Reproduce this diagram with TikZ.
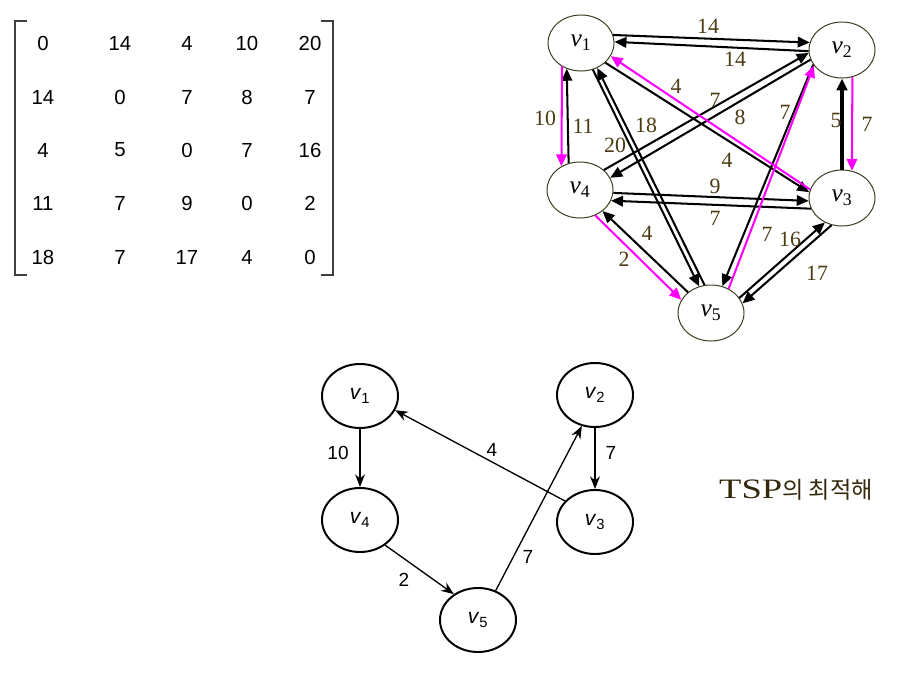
\documentclass[tikz,border=0pt]{standalone}
\usepackage{fontspec}
\setmainfont{Liberation Serif}
\setsansfont{Liberation Sans}
\newfontfamily\krfont{Noto Sans CJK KR}
\usetikzlibrary{arrows.meta,shapes.geometric}
\definecolor{tour}{HTML}{FF00FF}
\definecolor{rim}{HTML}{3B3A1C}
\definecolor{ink}{HTML}{4B3A12}

\begin{document}
\begin{tikzpicture}[x=0.025cm,y=-0.025cm,
  vtx/.style={ellipse,draw=rim,line width=0.7pt,minimum width=1.65cm,minimum height=1.4cm,inner sep=0pt,font=\fontsize{18}{18}\selectfont},
  arr/.style={line width=1.45pt,-{Triangle[length=8.5pt,width=7.5pt]}},
  tourarr/.style={arr,draw=tour,fill=tour},
  wt/.style={text=ink,inner sep=0pt,font=\fontsize{15.5}{16}\selectfont},
  circ/.style={ellipse,draw,line width=1.4pt,minimum width=1.9cm,minimum height=1.6cm,inner sep=0pt,font=\sffamily\fontsize{15}{15}\selectfont},
  tarr/.style={line width=0.95pt,-{Stealth[length=9pt,width=7pt]}},
  lab/.style={inner sep=0pt,font=\sffamily\fontsize{13.5}{14}\selectfont},
  ent/.style={inner sep=0pt,font=\sffamily\fontsize{14.5}{15}\selectfont}]
  \useasboundingbox (0,0) rectangle (908,677);
  % cost matrix
  \draw[line width=1pt,darkgray] (27,21) -- (15,21) -- (15,275) -- (27,275);
  \draw[line width=1pt,darkgray] (321,21) -- (333,21) -- (333,275) -- (321,275);
  \node[ent] (m11) at (43,43) {0};  \node[ent] (m12) at (120,43) {14}; \node[ent] (m13) at (187,43) {4};  \node[ent] (m14) at (247,43) {10}; \node[ent] (m15) at (310,43) {20};
  \node[ent] (m21) at (43,97) {14}; \node[ent] (m22) at (120,97) {0};  \node[ent] (m23) at (187,97) {7};  \node[ent] (m24) at (247,97) {8};  \node[ent] (m25) at (310,97) {7};
  \node[ent] (m31) at (43,150) {4}; \node[ent] (m32) at (120,150) {5}; \node[ent] (m33) at (187,150) {0}; \node[ent] (m34) at (247,150) {7}; \node[ent] (m35) at (310,150) {16};
  \node[ent] (m41) at (43,203) {11}; \node[ent] (m42) at (120,203) {7}; \node[ent] (m43) at (187,203) {9}; \node[ent] (m44) at (247,203) {0}; \node[ent] (m45) at (310,203) {2};
  \node[ent] (m51) at (43,257) {18}; \node[ent] (m52) at (120,257) {7}; \node[ent] (m53) at (187,257) {17}; \node[ent] (m54) at (247,257) {4}; \node[ent] (m55) at (310,257) {0};
  % complete graph
  \node[vtx] (v1) at (581,43) {\textit{v}\textsubscript{1}};
  \node[vtx] (v2) at (842,50) {\textit{v}\textsubscript{2}};
  \node[vtx] (v3) at (842,198) {\textit{v}\textsubscript{3}};
  \node[vtx] (v4) at (580,190) {\textit{v}\textsubscript{4}};
  \node[vtx] (v5) at (711,313) {\textit{v}\textsubscript{5}};
  \draw[arr] (v1.14) -- (v2.167);  \draw[arr] (v2.182) -- (v1.2);
  \draw[arr] (v4.113) -- (v1.241);
  \draw[arr,line width=2.3pt] (v3.90) -- (v2.270);
  \draw[arr] (v4.-5) -- (v3.185);  \draw[arr] (v3.199) -- (v4.-19);
  \draw[arr] (v5.138) -- (v4.-43);
  \draw[arr] (v5.28) -- (v3.235);  \draw[arr] (v3.249) -- (v5.17);
  \draw[arr] (v1.-66) -- (v5.114); \draw[arr] (v5.103) -- (v1.-57);
  \draw[arr] (v1.-39) -- (v3.170);
  \draw[arr] (v4.40) -- (v2.185);  \draw[arr] (v2.197) -- (v4.22);
  \draw[arr] (v2.207) -- (v5.67);
  % tour in magenta
  \draw[tourarr] (v1.231) -- (v4.128);
  \draw[tourarr] (v4.-59) -- (v5.156);
  \draw[tourarr] (v5.54) -- (v2.209);
  \draw[tourarr] (v2.291) -- (v3.70);
  \draw[tourarr] (v3.165) -- (v1.-24);
  \node[wt] (l12) at (708,26) {14};  \node[wt] (l21) at (735,59) {14};
  \node[wt] (l14) at (545,118) {10}; \node[wt] (l41) at (583,126) {11};
  \node[wt] (l31) at (676,86) {4};   \node[wt] (l42) at (715,100) {7};
  \node[wt] (l24) at (740,117) {8};  \node[wt] (l25) at (785,112) {7};
  \node[wt] (l32) at (836,120) {5};  \node[wt] (l23) at (867,124) {7};
  \node[wt] (l51) at (646,125) {18}; \node[wt] (l15) at (615,145) {20};
  \node[wt] (l13) at (727,160) {4};  \node[wt] (l43) at (715,186) {9};
  \node[wt] (l34) at (715,218) {7};  \node[wt] (l54) at (647,233) {4};
  \node[wt] (l45) at (624,259) {2};  \node[wt] (l52) at (767,234) {7};
  \node[wt] (l53) at (790,239) {16}; \node[wt] (l35) at (817,273) {17};
  % optimal tour
  \node[circ] (b1) at (360,396) {\textit{v}\textsubscript{1}};
  \node[circ] (b2) at (595,395) {\textit{v}\textsubscript{2}};
  \node[circ] (b3) at (595,522) {\textit{v}\textsubscript{3}};
  \node[circ] (b4) at (360,520) {\textit{v}\textsubscript{4}};
  \node[circ] (b5) at (478,620) {\textit{v}\textsubscript{5}};
  \draw[tarr] (b1) -- (b4); \draw[tarr] (b2) -- (b3);
  \draw[tarr] (b3.145) -- (b1.-22);
  \draw[tarr] (b4.-45) -- (b5.133);
  \draw[tarr] (b5.59) -- (b2.247);
  \node[lab] (t14) at (338,453) {10}; \node[lab] (t23) at (611,453) {7};
  \node[lab] (t31) at (492,450) {4};  \node[lab] (t45) at (404,580) {2};
  \node[lab] (t52) at (528,557) {7};
  \node[text=ink!70!black,font=\fontsize{20}{20}\selectfont] (cap) at (796,490) {\scalebox{1.3}[1]{TSP}{\krfont\fontsize{16.5}{17}\selectfont 의 최적해}};
\end{tikzpicture}
\end{document}
